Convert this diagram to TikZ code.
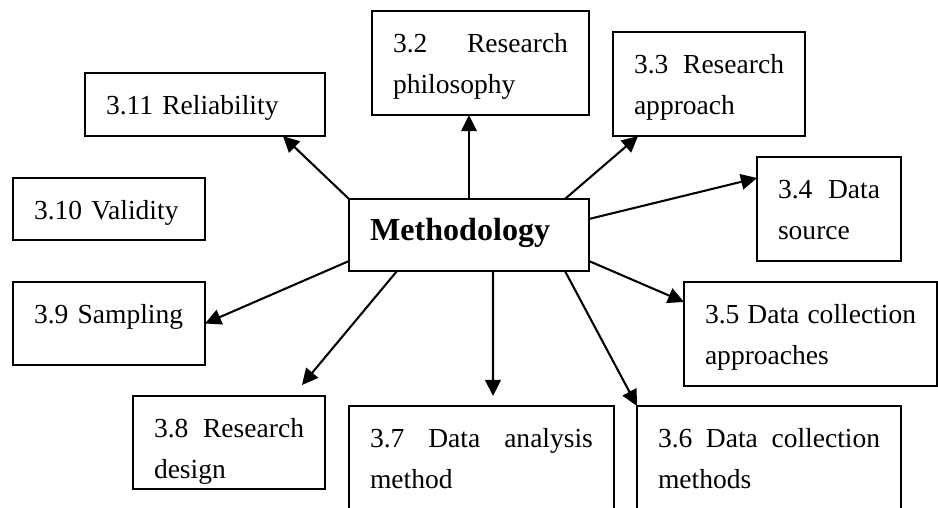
\documentclass[tikz,border=0pt]{standalone}
\usepackage{fontspec}
\setmainfont{Liberation Serif}
\usetikzlibrary{arrows.meta}
\usetikzlibrary{calc}

\begin{document}
\begin{tikzpicture}[x=0.436pt,y=-0.436pt,
  box/.style={draw,line width=0.9pt,outer sep=0pt,anchor=north west,align=left,inner xsep=9.16pt,inner ysep=0pt,text height=17.9pt,font=\fontsize{12pt}{17.9pt}\selectfont},
  arr/.style={line width=0.9pt,-{Triangle[length=7pt,width=6.8pt]}}]
\useasboundingbox (0,0) rectangle (938,508);
\clip (0,0) rectangle (938,508);
\node[box,text width=86.3pt,text depth=13.5pt,font=\fontsize{14pt}{17.9pt}\selectfont\bfseries] (meth) at (349,199) {Methodology};
\node[box,text width=76.3pt,text depth=27.5pt] (phil) at (372,11) {3.2\hfill Research\\philosophy};
\node[box,text width=65.4pt,text depth=27.5pt] (appr) at (613,32) {3.3\hfill Research\\approach};
\node[box,text width=44.5pt,text depth=27.5pt] (src) at (757,157) {3.4\hfill Data\\source};
\node[box,text width=92.0pt,text depth=27.5pt] (capp) at (684,282) {3.5\hfill Data\hfill collection\\approaches};
\node[box,text width=96.8pt,text depth=38.8pt] (cmeth) at (637,406) {3.6\hfill Data\hfill collection\\methods};
\node[box,text width=97.2pt,text depth=38.8pt] (anal) at (349,406) {3.7\hfill Data\hfill analysis\\method};
\node[box,text width=65.4pt,text depth=22.7pt] (desg) at (133,396) {3.8\hfill Research\\design};
\node[box,text width=65.4pt,text depth=18.3pt] (samp) at (13,282) {3.9 Sampling};
\node[box,text width=65.4pt,text depth=9.2pt] (vali) at (13,178) {3.10 Validity};
\node[box,text width=86.3pt,text depth=9.6pt] (reli) at (85,73) {3.11 Reliability};
\draw[arr] (meth.north) -- (meth.north |- phil.south);
\draw[arr] ($(meth.north east)+(-24,0)$) -- ($(appr.south west)+(25,0)$);
\draw[arr] ($(meth.north east)+(0,20)$) -- ($(src.north west)+(0,21)$);
\draw[arr] ($(meth.south east)+(0,-10)$) -- ($(capp.north west)+(0,20)$);
\draw[arr] ($(meth.south east)+(-24,0)$) -- (cmeth.north west);
\draw[arr] ($(meth.south)+(24,0)$) -- ($(anal.north west)+(144,-10)$);
\draw[arr] ($(meth.south west)+(48,0)$) -- ($(desg.north east)+(-23,-11)$);
\draw[arr] ($(meth.south west)+(0,-10)$) -- (samp.east);
\draw[arr] (meth.north west) -- ($(reli.south east)+(-42,0)$);
\end{tikzpicture}
\end{document}
